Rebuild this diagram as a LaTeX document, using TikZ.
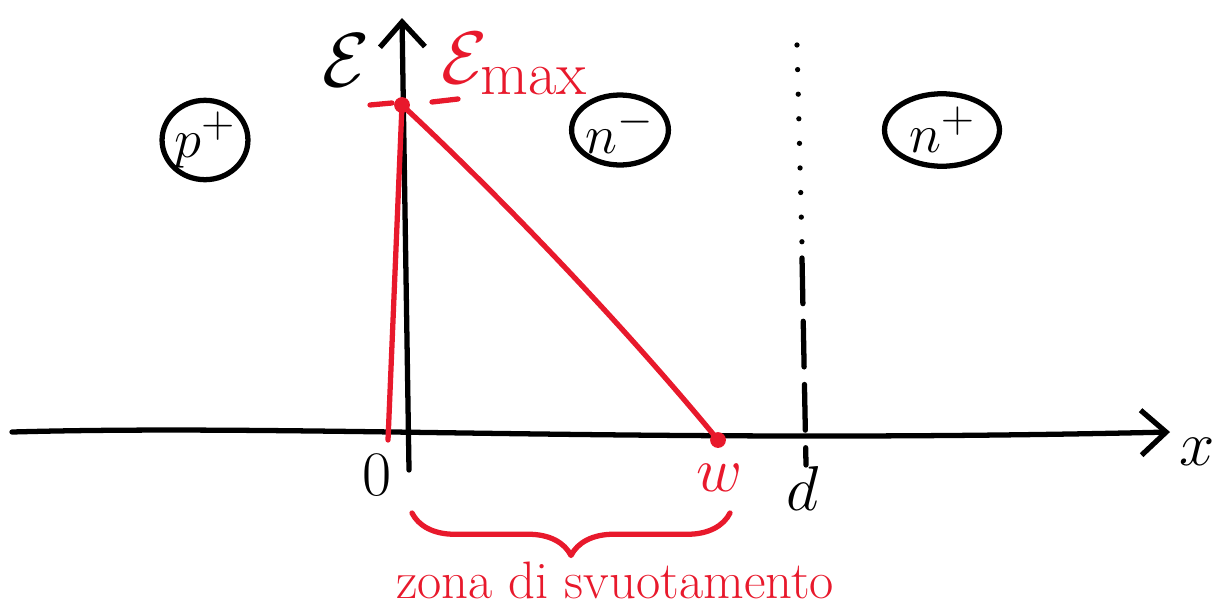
\documentclass[tikz,border=0pt]{standalone}
\usepackage{fontspec}
\usepackage{amsmath,amssymb,graphicx}
\usetikzlibrary{arrows.meta,positioning,calc,shapes.geometric,decorations.pathreplacing}
\definecolor{svred}{HTML}{E8192C}
\tikzset{
  pen/.style={line width=3pt,line cap=round,line join=round},
  redpen/.style={pen,svred},
  region/.style={draw,ellipse,pen,inner sep=0pt,font=\Huge},
  axlabel/.style={font=\Huge,inner sep=1pt},
}
\newcommand{\svmath}[2]{\scalebox{#1}{$#2$}}

\begin{document}
\begin{tikzpicture}[x=0.02cm,y=-0.02cm,>={Straight Barb[length=5mm,width=9mm]}]
\useasboundingbox (0,0) rectangle (1222,609);
% assi
\coordinate (xs) at (12,432);
\coordinate (xe) at (1170,432);
\coordinate (yb) at (409,470);
\coordinate (yt) at (402,18);
\draw[pen,->] (xs) .. controls (300,424) and (650,444) .. (xe);
\draw[pen,->] (yb) -- (yt);
\node[axlabel] (xlab) at (1197,452) {\svmath{1.45}{x}};
\node[axlabel] (Elab) at (346,60) {\svmath{1.75}{\mathcal{E}}};
% regioni
\node[region,minimum width=1.5cm,minimum height=1.55cm] (pplus) at (205,140) {\svmath{1.25}{p^+}};
\node[region,minimum width=1.85cm,minimum height=1.4cm] (nminus) at (620,130) {\svmath{1.25}{n^-}};
\node[region,minimum width=2.3cm,minimum height=1.45cm] (nplus) at (942,130) {\svmath{1.25}{n^+}};
% campo
\coordinate (o) at (388,440);
\coordinate (top) at (402,105);
\coordinate (w) at (718,440);
\draw[redpen] (o) -- (top) .. controls (520,215) and (640,345) .. (w);
\fill[svred] (top) circle (4.5pt);
\fill[svred] (w) circle (4.5pt);
\draw[redpen] (370,105) -- (392,103);
\draw[redpen] (432,102) -- (458,99);
\node[axlabel,svred] (Emax) at (515,64) {\svmath{1.7}{\mathcal{E}_{\mathrm{max}}}};
% d
\draw[pen,dash pattern=on 0pt off 14pt] (797,45) -- (802,245);
\draw[pen,dash pattern=on 26pt off 10pt] (802,258) -- (806,465);
\node[axlabel] (zero) at (377,475) {\svmath{1.45}{0}};
\node[axlabel,svred] (wlab) at (720,478) {\svmath{1.45}{w}};
\node[axlabel] (dlab) at (803,488) {\svmath{1.45}{d}};
% zona
\draw[redpen,decorate,decoration={brace,mirror,amplitude=0.85cm}] (412,513) -- (730,513);
\node[svred,font=\fontsize{30}{34}\selectfont] (zona) at (615,580) {zona di svuotamento};
\end{tikzpicture}
\end{document}
